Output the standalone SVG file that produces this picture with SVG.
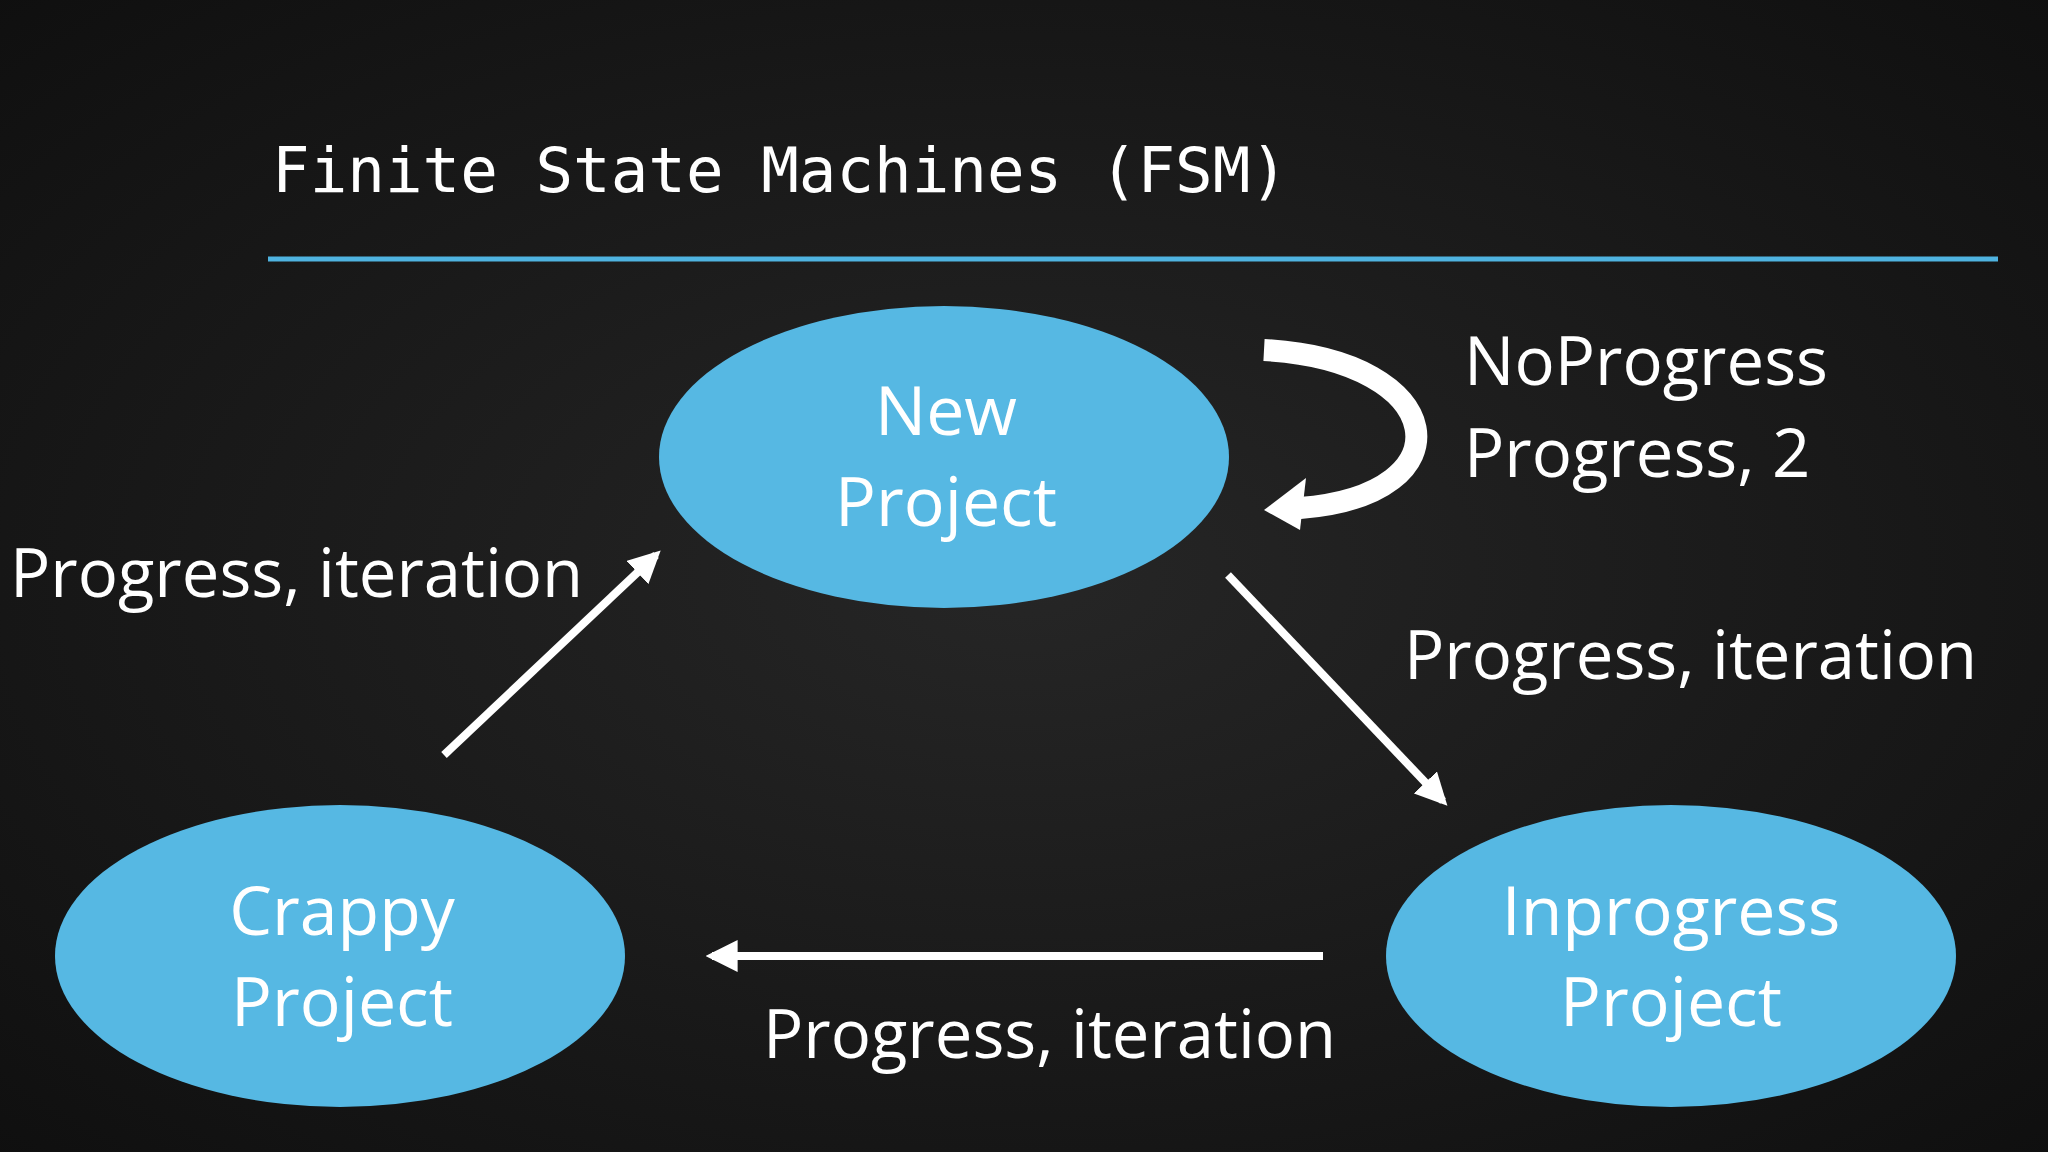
<svg xmlns="http://www.w3.org/2000/svg" width="2048" height="1152" viewBox="0 0 2048 1152">
<defs>
<style>
.node{fill:#56b8e3}
.nt{font-family:"Open Sans","Liberation Sans",sans-serif;font-size:68px;fill:#fff;text-anchor:middle}
.lbl{font-family:"Open Sans","Liberation Sans",sans-serif;font-size:67px;fill:#fff}
.c{stroke:#fff;stroke-width:8;fill:none}
</style>
<marker id="ah" viewBox="0 0 10 10" refX="8" refY="5" markerWidth="4" markerHeight="4" orient="auto"><path d="M0,0L10,5L0,10z" fill="#fff"/></marker>
<radialGradient id="bg" cx="50%" cy="50%" r="75%"><stop offset="0" stop-color="#262626"/><stop offset="1" stop-color="#0e0e0e"/></radialGradient>
</defs>
<rect width="2048" height="1152" fill="url(#bg)"/>
<text x="272" y="192" font-family="'DejaVu Sans Mono','Liberation Mono',monospace" font-size="62.5" fill="#fff">Finite State Machines (FSM)</text>
<line x1="268" y1="259" x2="1998" y2="259" stroke="#4fb3e0" stroke-width="5"/>
<g id="new"><ellipse class="node" cx="944" cy="457" rx="285" ry="151"/><text class="nt" x="946" y="435">New</text><text class="nt" x="946" y="526">Project</text></g>
<g id="crappy"><ellipse class="node" cx="340" cy="956" rx="285" ry="151"/><text class="nt" x="342" y="935">Crappy</text><text class="nt" x="342" y="1026">Project</text></g>
<g id="inprogress"><ellipse class="node" cx="1671" cy="956" rx="285" ry="151"/><text class="nt" x="1671" y="935">Inprogress</text><text class="nt" x="1671" y="1026">Project</text></g>
<g id="connectors">
<line class="c" x1="444" y1="755" x2="656" y2="555" marker-end="url(#ah)"/>
<line class="c" x1="1228" y1="575" x2="1443" y2="801" marker-end="url(#ah)"/>
<line class="c" x1="1323" y1="956" x2="712" y2="956" marker-end="url(#ah)"/>
<path d="M1264,350 C1450,360 1470,495 1300,508" stroke="#fff" stroke-width="22" fill="none"/>
<path d="M1264,510 L1306,478 L1300,530 Z" fill="#fff"/>
</g>
<text class="lbl" x="10" y="597">Progress, iteration</text>
<text class="lbl" x="1404" y="679">Progress, iteration</text>
<text class="lbl" x="763" y="1058">Progress, iteration</text>
<text class="lbl" x="1464" y="385">NoProgress</text>
<text class="lbl" x="1464" y="477">Progress, 2</text>
</svg>
